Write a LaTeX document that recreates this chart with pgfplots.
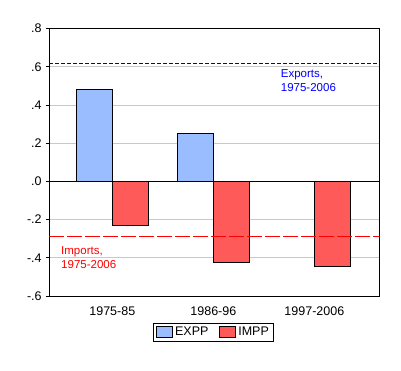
\documentclass[border=0pt]{standalone}
\usepackage{fontspec}
\setmainfont{Liberation Sans}
\usepackage{pgfplots}
\pgfplotsset{compat=1.18}
\definecolor{expblue}{RGB}{153,189,255}
\definecolor{impred}{RGB}{255,90,90}
\definecolor{gridgray}{RGB}{200,200,200}
\begin{document}
\fontsize{12.5pt}{14pt}\selectfont
\begin{tikzpicture}[x=1pt,y=1pt]
\path[use as bounding box] (0,0) rectangle (401,370);
\begin{axis}[
  at={(49pt,74pt)}, anchor=south west,
  scale only axis, width=330.5pt, height=267.5pt,
  xmin=-0.627, xmax=2.645, ymin=-0.6, ymax=0.8,
  ybar, bar width=36pt,
  xtick={0,1,2}, xticklabels={1975-85,1986-96,1997-2006},
  x tick label style={yshift=-3pt},
  tick label style={font=\fontsize{12.5pt}{14pt}\selectfont},
  major x tick style={draw=none},
  ytick={-0.6,-0.4,-0.2,0,0.2,0.4,0.6,0.8},
  yticklabels={-.6,-.4,-.2,.0,.2,.4,.6,.8},
  tick align=outside, major tick length=3pt,
  ytick pos=left,
  ymajorgrids, grid style={gridgray, line width=0.8pt},
  extra y ticks={0}, extra y tick labels={},
  extra y tick style={grid style={black, line width=0.8pt}, major tick length=0pt},
  axis line style={line width=0.8pt},
  every tick/.style={black, line width=0.8pt},
  legend style={at={(0.498,-0.1)}, anchor=north, legend columns=2,
    draw=black, line width=0.8pt, font=\fontsize{12.5pt}{14pt}\selectfont,
    inner ysep=2pt,
    /tikz/every even column/.append style={column sep=9pt}},
  legend image code/.code={\draw[#1, line width=0.8pt] (0pt,-5pt) rectangle (16pt,5.5pt);},
]
\addplot[fill=expblue, draw=black, line width=0.8pt, bar shift=-18pt] coordinates {(0,0.482) (1,0.251)};
\addplot[fill=impred, draw=black, line width=0.8pt, bar shift=18pt] coordinates {(0,-0.230) (1,-0.424) (2,-0.445)};
\legend{EXPP,IMPP}
\addplot[ybar=false, sharp plot, draw={rgb,255:red,0;green,0;blue,190}, line width=0.8pt, dash pattern=on 4pt off 2pt, forget plot] coordinates {(-0.627,0.619) (2.645,0.619)};
\addplot[ybar=false, sharp plot, draw=red, line width=0.8pt, dash pattern=on 15pt off 3pt, forget plot] coordinates {(-0.627,-0.290) (2.645,-0.290)};
\node[anchor=north west, inner sep=0pt, text=blue, align=left, font=\fontsize{11.5pt}{14pt}\selectfont] at (axis cs:1.667,0.588) {Exports,\\1975-2006};
\node[anchor=north west, inner sep=0pt, text=red, align=left, font=\fontsize{11.5pt}{14pt}\selectfont] at (axis cs:-0.508,-0.342) {Imports,\\1975-2006};
\end{axis}
\end{tikzpicture}
\end{document}
